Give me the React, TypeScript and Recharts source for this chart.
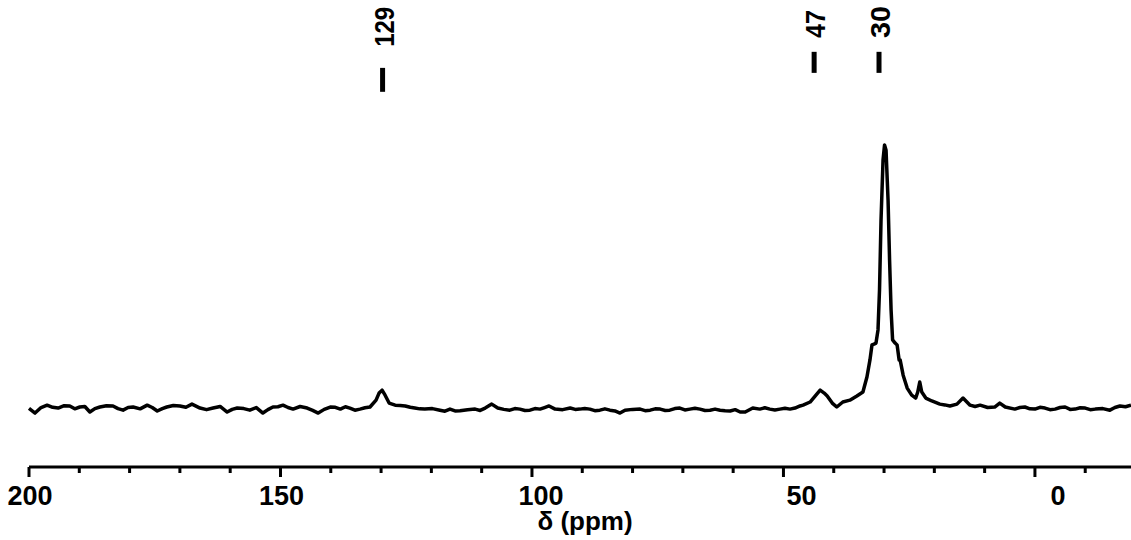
import { LineChart, Line, XAxis, YAxis, ReferenceLine, ReferenceDot } from 'recharts';

const shifts = [
  200.0, 198.8, 197.6, 196.4, 195.3, 194.2, 193.0, 191.9, 190.9, 189.9,
  188.9, 187.9, 186.9, 185.9, 184.6, 183.3, 182.3, 181.3, 180.3, 179.3,
  177.9, 176.5, 175.5, 174.5, 173.5, 172.6, 171.3, 170.0, 168.8, 167.6,
  166.0, 164.7, 163.4, 162.0, 160.6, 159.6, 158.6, 157.3, 156.1, 154.8,
  153.5, 152.5, 151.5, 150.5, 149.5, 148.5, 147.5, 146.1, 144.7, 143.6,
  142.5, 141.3, 140.1, 139.1, 138.1, 137.1, 136.2, 135.2, 134.2, 133.2,
  132.2, 131.0, 130.4, 129.8, 129.2, 128.4, 127.2, 126.2, 125.2, 124.2,
  123.3, 122.3, 121.3, 119.8, 118.3, 117.3, 116.3, 115.3, 114.3, 112.8,
  111.3, 110.3, 109.3, 108.0, 106.8, 105.6, 104.4, 103.4, 102.4, 101.4,
  100.4, 99.4, 98.4, 97.5, 96.6, 95.4, 93.9, 92.4, 91.4, 90.5,
  89.5, 88.5, 87.5, 86.5, 85.5, 84.5, 83.5, 82.5, 81.5, 80.0,
  78.5, 77.5, 76.5, 75.5, 74.5, 73.5, 72.6, 71.6, 70.6, 69.6,
  68.6, 67.6, 66.6, 65.6, 64.6, 63.6, 62.6, 61.6, 60.6, 59.6,
  58.6, 57.6, 56.1, 54.7, 53.7, 52.7, 51.7, 50.7, 49.7, 48.7,
  47.7, 46.7, 46.1, 44.7, 43.5, 42.7, 41.9, 41.3, 40.3, 39.4,
  38.2, 36.8, 35.4, 34.2, 33.4, 32.8, 32.4, 32.0, 31.6, 31.2,
  30.9, 30.6, 30.2, 29.9, 29.6, 29.2, 28.9, 28.6, 28.3, 27.8,
  27.4, 27.0, 26.8, 26.2, 25.4, 24.5, 23.7, 23.3, 22.9, 22.5,
  21.7, 20.5, 18.9, 17.9, 16.9, 15.5, 14.3, 12.9, 11.9, 10.9,
  9.4, 8.0, 7.0, 5.9, 4.0, 3.0, 2.0, 1.0, 0.0, -1.0,
  -2.0, -3.0, -4.0, -5.0, -6.0, -7.0, -8.0, -9.0, -10.0, -11.0,
  -12.0, -13.5, -14.9, -15.9, -16.9, -18.0, -19.1,
];

const intensity = [
  -0.1, -1.9, 0.2, 1.1, 0.3, 0, 0.9, 0.8, -0.3, 0.4,
  0.6, -1.5, -0.2, 0.4, 0.9, 0.8, -0.2, -0.8, 0.2, 0.4,
  -0.3, 1.1, 0.2, -1.1, -0.2, 0.4, 1.0, 0.8, 0.3, 1.5,
  0, -0.6, 0, 0.6, -1.5, -0.5, 0, -0.2, -0.8, 0.2,
  -1.9, -0.6, 0.4, 0.5, 1.1, 0.2, -0.4, 0.6, 0, -0.9,
  -1.9, -0.5, 0.4, 0.3, -0.4, 0.5, 0, -0.8, -0.4, 0.1,
  0.4, 3.0, 5.7, 6.8, 4.9, 1.9, 1.1, 1.0, 0.8, 0.3,
  0, -0.3, -0.4, -0.2, -0.8, -1.2, -0.4, -1.1, -1.0, -0.6,
  -0.4, -0.9, 0, 1.5, 0, -0.5, -0.8, -0.2, -0.4, -0.9,
  -0.8, -0.2, -0.4, 0.2, 0.8, -0.4, -0.6, 0, -0.5, -0.4,
  -0.2, -0.4, -1.0, -0.8, -0.3, -0.8, -1.1, -1.9, -0.8, -0.5,
  -0.4, -1.0, -0.8, -0.3, -0.4, -0.9, -0.8, -0.2, 0, -0.7,
  -0.4, -0.1, -0.4, -0.9, -0.8, -0.4, -0.8, -1.0, -1.1, -0.6,
  -1.5, -1.5, 0, -0.4, 0.1, -0.4, -0.7, -0.4, -0.1, -0.4,
  0, 0.8, 1.1, 2.3, 5.0, 6.8, 5.7, 4.6, 1.9, 0.4,
  2.3, 3.0, 4.6, 6.1, 11.8, 18.3, 24.0, 24.3, 24.7, 29.7,
  44.9, 71.5, 94.3, 100, 98, 79, 56.3, 37.3, 25.9, 24.7,
  24.0, 18.3, 18.3, 12.5, 7.6, 4.9, 3.8, 6.1, 9.9, 6.1,
  3.8, 2.7, 1.5, 1.2, 0.8, 1.5, 3.8, 1.1, 0.6, 1.1,
  0.2, 0.4, 1.9, 0.4, -0.4, 0.2, 0.4, -0.3, -0.4, 0.3,
  0, -0.6, -0.4, 0.2, 0.4, -0.5, -0.4, 0.1, 0, -0.6,
  -0.4, -0.2, -0.8, 0.2, 0.8, 0.5, 1.1,
];

const majorTicks = [200, 150, 100, 50, 0];
const allTicks = [200, 190, 180, 170, 160, 150, 140, 130, 120, 110, 100, 90, 80, 70, 60, 50, 40, 30, 20, 10, 0, -10];

const peakLabels = ['129', '47', '30'];
const peakShifts = [129.7, 43.9, 31.0];

const data = shifts.map((x, i) => ({ x, y: intensity[i] }));

const FONT = '"Liberation Sans", Arial, sans-serif';
// labels in the original sit a little right of their ticks
const LABEL_NUDGE: Record<number, number> = { 200: 1, 150: 1, 100: 9, 50: 18, 0: 23 };
const LABEL_LEN: Record<string, number> = { '129': 40, '47': 28, '30': 32 };
const BAR_TOP = [129.3, 135.4, 135.4];
const BAR_BOTTOM = [120.2, 127.4, 127.4];
const TEXT_START = [137.3, 140.7, 140.7];

const AxisTick = ({ x, y, payload }: any) => {
  const v = payload.value;
  const major = majorTicks.includes(v);
  return (
    <g>
      <line x1={x} x2={x} y1={y} y2={y + (major ? 10 : 6)} stroke="#000" strokeWidth={3} />
      {major && (
        <text
          x={x + (LABEL_NUDGE[v] ?? 0)}
          y={y + 38}
          textAnchor="middle"
          fontFamily={FONT}
          fontWeight="bold"
          fontSize={27}
          fill="#000"
        >
          {v}
        </text>
      )}
    </g>
  );
};

const peakText = (label: string) => (props: any) => (
  <text
    x={0}
    y={0}
    transform={`translate(${props.cx + 11}, ${props.cy}) rotate(-90)`}
    fontFamily={FONT}
    fontWeight="bold"
    fontSize={27}
    textLength={LABEL_LEN[label]}
    lengthAdjust="spacingAndGlyphs"
    fill="#000"
  >
    {label}
  </text>
);

export default function App() {
  return (
    <div style={{ width: 1131, height: 540, background: '#fff' }}>
      <style>{'body{margin:0}'}</style>
      <LineChart width={1131} height={540} data={data} margin={{ top: 0, right: 0, left: 29, bottom: 0 }}>
        <XAxis
          dataKey="x"
          type="number"
          domain={[-19.1, 200]}
          reversed
          ticks={allTicks}
          interval={0}
          height={73}
          tickSize={0}
          tickMargin={0}
          tickLine={false}
          tick={<AxisTick />}
          axisLine={{ stroke: '#000', strokeWidth: 3 }}
          label={{
            value: 'δ (ppm)',
            position: 'insideBottom',
            offset: 10,
            dx: 5,
            style: { fontFamily: FONT, fontWeight: 'bold', fontSize: 26, fill: '#000' },
          }}
        />
        <YAxis hide domain={[-22.4, 155.1]} type="number" />
        {peakShifts.map((p, i) => (
          <ReferenceLine
            key={'bar' + i}
            segment={[{ x: p, y: BAR_BOTTOM[i] }, { x: p, y: BAR_TOP[i] }]}
            stroke="#000"
            strokeWidth={5}
          />
        ))}
        {peakShifts.map((p, i) => (
          <ReferenceDot key={'lbl' + i} x={p} y={TEXT_START[i]} r={1} shape={peakText(peakLabels[i])} />
        ))}
        <Line
          type="linear"
          dataKey="y"
          stroke="#000"
          strokeWidth={3.5}
          strokeLinejoin="round"
          dot={false}
          isAnimationActive={false}
        />
      </LineChart>
    </div>
  );
}
